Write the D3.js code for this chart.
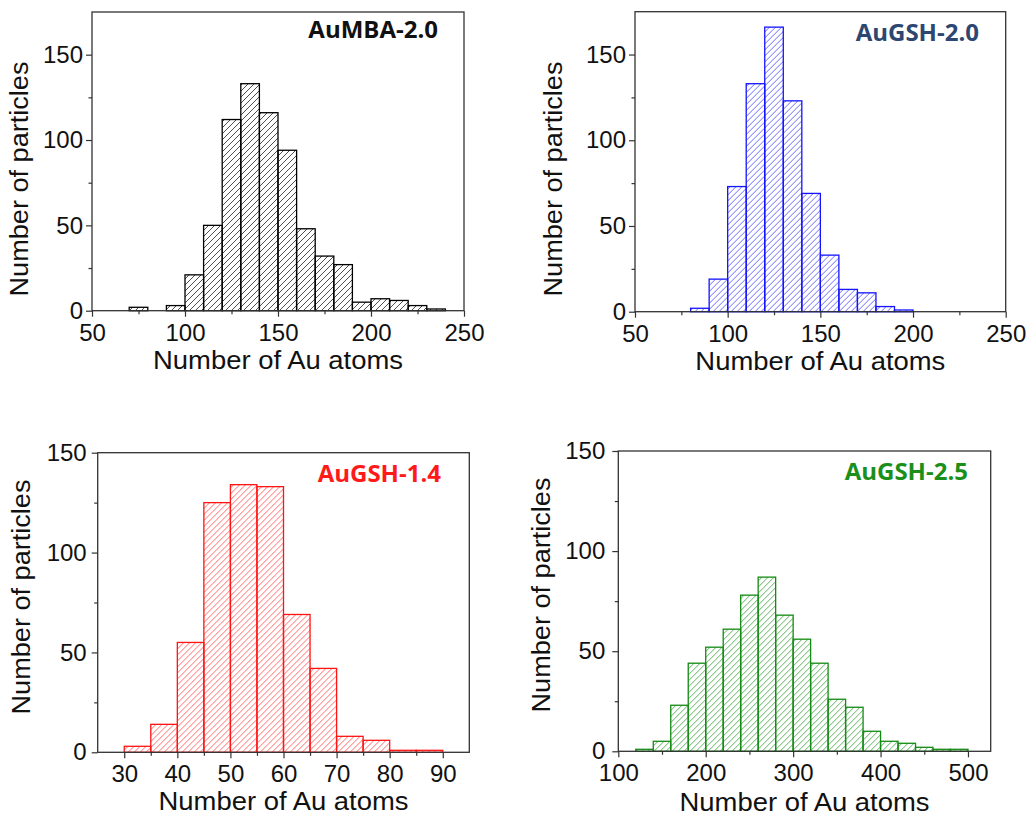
<!DOCTYPE html>
<html>
<head>
<meta charset="utf-8">
<script src="https://cdn.jsdelivr.net/npm/d3@7"></script>
<style>
  body { margin: 0; background: #fff; }
  svg { display: block; font-family: "Liberation Sans", Arial, sans-serif; }
</style>
</head>
<body>
<div id="chart"></div>
<script>
// counts per bin
const mba20Start = 70, mba20Width = 10;
const mba20Counts = [2, 0, 3, 21, 50, 112, 133, 116, 94, 48, 32, 27, 5, 7, 6, 3, 1];

const gsh20Start = 80, gsh20Width = 10;
const gsh20Counts = [2, 19, 73, 133, 166, 123, 69, 33, 13, 11, 3, 1];

const gsh14Start = 30, gsh14Width = 5;
const gsh14Counts = [3, 14, 55, 125, 134, 133, 69, 42, 8, 6, 1, 1];

const gsh25Start = 120, gsh25Width = 20;
const gsh25Counts = [1, 5, 23, 44, 52, 61, 78, 87, 68, 56, 44, 26, 22, 10, 5, 4, 2, 1, 1];

const topXTicks = [50, 100, 150, 200, 250];
const topXMinor = [75, 125, 175, 225];
const gsh14XTicks = [30, 40, 50, 60, 70, 80, 90];
const gsh14XMinor = [35, 45, 55, 65, 75, 85];
const gsh25XTicks = [100, 200, 300, 400, 500];
const gsh25XMinor = [150, 250, 350, 450];
const yTicks = [0, 50, 100, 150];
const yMinor = [25, 75, 125];

const xTitle = "Number of Au atoms";
const yTitle = "Number of particles";

const panels = [
  {
    id: "mba20", title: "AuMBA-2.0", start: mba20Start, width: mba20Width, counts: mba20Counts,
    xDomain: [50, 250], yDomain: [0, 175], xTicks: topXTicks, xMinor: topXMinor,
    box: { left: 92, right: 464, top: 12, bottom: 310.7 }, yPad: 3,
    titlePos: [438, 38], yLabelPos: [28, 179], xLabelY: 369,
    stroke: "#000", hatch: "#3a3a3a", titleColor: "#111"
  },
  {
    id: "gsh20", title: "AuGSH-2.0", start: gsh20Start, width: gsh20Width, counts: gsh20Counts,
    xDomain: [50, 250], yDomain: [0, 175], xTicks: topXTicks, xMinor: topXMinor,
    box: { left: 635, right: 1005.7, top: 11.7, bottom: 311.7 }, yPad: 3,
    titlePos: [979, 41], yLabelPos: [561.5, 179], xLabelY: 370,
    stroke: "#1414ff", hatch: "#5a5aff", titleColor: "#2e4672"
  },
  {
    id: "gsh14", title: "AuGSH-1.4", start: gsh14Start, width: gsh14Width, counts: gsh14Counts,
    xDomain: [25, 95], yDomain: [0, 150], xTicks: gsh14XTicks, xMinor: gsh14XMinor,
    box: { left: 97.7, right: 469.3, top: 452.7, bottom: 752.3 }, yPad: 5,
    titlePos: [441, 482], yLabelPos: [30, 597], xLabelY: 810,
    stroke: "#ff1414", hatch: "#ff5a5a", titleColor: "#ff1a1a"
  },
  {
    id: "gsh25", title: "AuGSH-2.5", start: gsh25Start, width: gsh25Width, counts: gsh25Counts,
    xDomain: [100, 526], yDomain: [0, 150], xTicks: gsh25XTicks, xMinor: gsh25XMinor,
    box: { left: 618.3, right: 990.7, top: 451, bottom: 751.3 }, yPad: 7,
    titlePos: [968, 480], yLabelPos: [550, 595], xLabelY: 811,
    stroke: "#138a13", hatch: "#4ca84c", titleColor: "#1a8f1a"
  }
];

const hatchStep = 6;

let svg = d3
  .select("#chart")
  .append("svg")
  .attr("width", 1032)
  .attr("height", 817);

let defs = svg.append("defs");

panels.forEach(function (p) {
  drawPanel(p);
});

function drawPanel(p) {
  const b = p.box;
  let x = d3.scaleLinear().domain(p.xDomain).range([b.left, b.right]);
  let y = d3.scaleLinear().domain(p.yDomain).range([b.bottom, b.top]);

  let g = svg.append("g").attr("class", "panel-" + p.id);

  const bins = p.counts
    .map(function (c, i) {
      return { x0: p.start + i * p.width, x1: p.start + (i + 1) * p.width, count: c };
    })
    .filter(function (d) {
      return d.count > 0;
    });

  // the bars themselves are the clip region for the hatching
  defs
    .append("clipPath")
    .attr("id", "clip-" + p.id)
    .selectAll("rect")
    .data(bins)
    .enter()
    .append("rect")
    .attr("x", function (d) { return x(d.x0); })
    .attr("width", function (d) { return x(d.x1) - x(d.x0); })
    .attr("y", function (d) { return y(d.count); })
    .attr("height", function (d) { return y(0) - y(d.count); });

  const h = b.bottom - b.top;
  const offsets = d3.range(-h, b.right - b.left, hatchStep);
  g.append("g")
    .attr("clip-path", "url(#clip-" + p.id + ")")
    .selectAll("line")
    .data(offsets)
    .enter()
    .append("line")
    .attr("x1", function (k) { return b.left + k; })
    .attr("y1", b.bottom)
    .attr("x2", function (k) { return b.left + k + h; })
    .attr("y2", b.top)
    .attr("stroke", p.hatch)
    .attr("stroke-width", 0.9);

  g.selectAll(".bar")
    .data(bins)
    .enter()
    .append("rect")
    .attr("class", "bar")
    .attr("x", function (d) { return x(d.x0); })
    .attr("width", function (d) { return x(d.x1) - x(d.x0); })
    .attr("y", function (d) { return y(d.count); })
    .attr("height", function (d) { return y(0) - y(d.count); })
    .attr("fill", "none")
    .attr("stroke", p.stroke)
    .attr("stroke-width", 1.3);

  // frame
  g.append("rect")
    .attr("x", b.left)
    .attr("y", b.top)
    .attr("width", b.right - b.left)
    .attr("height", b.bottom - b.top)
    .attr("fill", "none")
    .attr("stroke", "#333")
    .attr("stroke-width", 1.3);

  g.append("g")
    .attr("transform", "translate(0," + b.bottom + ")")
    .call(d3.axisBottom(x).tickValues(p.xTicks).tickSize(6).tickPadding(7).tickFormat(d3.format("d")));
  g.append("g")
    .attr("transform", "translate(0," + b.bottom + ")")
    .call(d3.axisBottom(x).tickValues(p.xMinor).tickSize(3.5).tickFormat(""));

  g.append("g")
    .attr("transform", "translate(" + b.left + ",0)")
    .call(d3.axisLeft(y).tickValues(yTicks).tickSize(6).tickPadding(p.yPad));
  g.append("g")
    .attr("transform", "translate(" + b.left + ",0)")
    .call(d3.axisLeft(y).tickValues(yMinor).tickSize(3.5).tickFormat(""));

  g.selectAll(".domain").remove();
  g.selectAll(".tick line").attr("stroke", "#333").attr("stroke-width", 1.2);
  g.selectAll(".tick text")
    .attr("fill", "#111")
    .style("font-size", "24px")
    .style("font-family", "'Liberation Sans', Arial, sans-serif");

  g.append("text")
    .attr("x", (b.left + b.right) / 2)
    .attr("y", p.xLabelY)
    .attr("text-anchor", "middle")
    .attr("fill", "#111")
    .attr("textLength", 250)
    .attr("lengthAdjust", "spacingAndGlyphs")
    .style("font-size", "25px")
    .text(xTitle);

  g.append("text")
    .attr("transform", "translate(" + p.yLabelPos[0] + "," + p.yLabelPos[1] + ") rotate(-90)")
    .attr("text-anchor", "middle")
    .attr("fill", "#111")
    .attr("textLength", 235)
    .attr("lengthAdjust", "spacingAndGlyphs")
    .style("font-size", "25px")
    .text(yTitle);

  g.append("text")
    .attr("x", p.titlePos[0])
    .attr("y", p.titlePos[1])
    .attr("text-anchor", "end")
    .attr("fill", p.titleColor)
    .style("font-family", "'Open Sans', sans-serif")
    .style("font-weight", "700")
    .style("font-size", "24px")
    .text(p.title);
}
</script>
</body>
</html>
